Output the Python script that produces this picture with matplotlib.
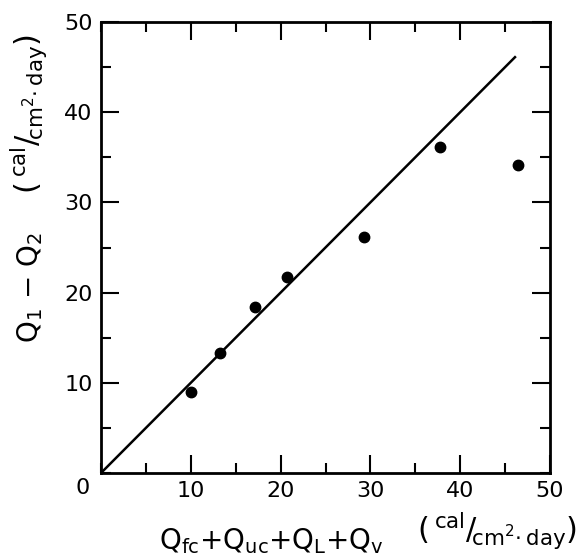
import numpy as np
import matplotlib.pyplot as plt
from matplotlib.ticker import MultipleLocator

# measured points (cal/cm2.day)
q_sum = [10.0, 13.2, 17.1, 20.7, 29.3, 37.7, 46.4]
q_diff = [9.0, 13.3, 18.4, 21.7, 26.2, 36.1, 34.1]
# 1:1 line
line_x = [0, 46.2]
line_y = [0, 46.2]
tick_vals = [10, 20, 30, 40, 50]
tick_labels = ['10', '20', '30', '40', '50']

plt.rcParams['font.family'] = ['DejaVu Sans']
plt.rcParams['mathtext.fontset'] = 'dejavusans'

unit_str = r'$(\,^{\mathrm{cal}}/\!_{\mathrm{cm^2\!\cdot day}})$'


def main():
    fig = plt.figure(figsize=(5.82, 5.59), dpi=100)
    ax = fig.add_axes([101 / 582, 1 - 473 / 559, 449 / 582, 451 / 559])
    ax.plot(line_x, line_y, color='black', lw=1.8, solid_capstyle='butt')
    ax.plot(q_sum, q_diff, 'o', color='black', ms=7.5)
    ax.set_xlim(0, 50)
    ax.set_ylim(0, 50)
    for s in ax.spines.values():
        s.set_linewidth(2)
    ax.xaxis.set_minor_locator(MultipleLocator(5))
    ax.yaxis.set_minor_locator(MultipleLocator(5))
    ax.tick_params(which='both', direction='in', top=True, right=True, width=1.5)
    ax.tick_params(which='major', length=13, labelsize=16, pad=6)
    ax.tick_params(which='minor', length=7.5)
    ax.set_xticks(tick_vals)
    ax.set_yticks(tick_vals)
    ax.set_xticklabels(tick_labels)
    ax.set_yticklabels(tick_labels)
    fig.text(90 / 582, 1 - 488 / 559, '0', fontsize=16, ha='right', va='center')

    fig.text(30 / 582, 1 - 288 / 559, r'Q$_1$ $-$ Q$_2$', fontsize=20,
             rotation=90, ha='center', va='center')
    fig.text(29 / 582, 1 - 114 / 559, unit_str, fontsize=22,
             rotation=90, ha='center', va='center')
    fig.text(271 / 582, 1 - 541 / 559,
             r'Q$_{\mathrm{fc}}$+Q$_{\mathrm{uc}}$+Q$_{\mathrm{L}}$+Q$_{\mathrm{v}}$',
             fontsize=20, ha='center', va='center')
    fig.text(497 / 582, 1 - 531 / 559, unit_str, fontsize=22,
             ha='center', va='center')

    fig.savefig('out.png', dpi=100)


if __name__ == "__main__":
    main()
